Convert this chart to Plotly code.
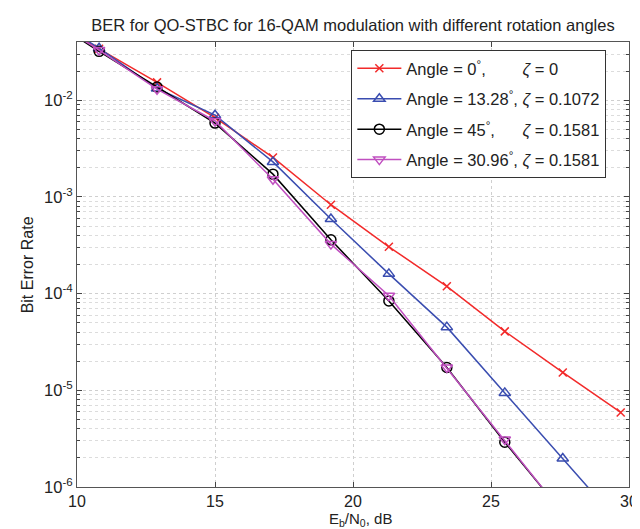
import plotly.graph_objects as go

# Eb/N0 (dB) sample points
ebn0 = [8.7, 10.8, 12.9, 15.0, 17.1, 19.2, 21.3, 23.4, 25.5, 27.6, 29.7]

ber_angle0 = [0.080, 0.0340, 0.0153, 0.0066, 2.56e-3, 8.3e-4, 3.05e-4, 1.19e-4, 4.07e-5, 1.53e-5, 5.9e-6]
ber_angle13 = [0.082, 0.0345, 0.0132, 0.0070, 2.3e-3, 5.9e-4, 1.6e-4, 4.5e-5, 9.4e-6, 1.97e-6, 4.1e-7]
ber_angle45 = [0.078, 0.0320, 0.0137, 0.0058, 1.72e-3, 3.6e-4, 8.4e-5, 1.72e-5, 2.9e-6, 5.4e-7, 9.0e-8]
ber_angle31 = [0.079, 0.0330, 0.0130, 0.0061, 1.52e-3, 3.25e-4, 9.5e-5, 1.72e-5, 3.1e-6, 5.6e-7, 9.5e-8]

names = [
    "Angle = 0<sup>°</sup>,\u00a0\u00a0\u00a0\u00a0\u00a0\u00a0\u00a0\u00a0<i>ζ</i> = 0",
    "Angle = 13.28<sup>°</sup>, <i>ζ</i> = 0.1072",
    "Angle = 45<sup>°</sup>,\u00a0\u00a0\u00a0\u00a0\u00a0\u00a0<i>ζ</i> = 0.1581",
    "Angle = 30.96<sup>°</sup>, <i>ζ</i> = 0.1581",
]
colors = ["#f22a2a", "#3a4db0", "#000000", "#c04fc0"]
symbols = ["x-thin", "triangle-up-open", "circle-open", "triangle-down-open"]
series = [ber_angle0, ber_angle13, ber_angle45, ber_angle31]

x_ticks = [10, 15, 20, 25, 30]
y_tickvals = [1e-6, 1e-5, 1e-4, 1e-3, 1e-2]
y_ticktext = ["10<sup>-6</sup>", "10<sup>-5</sup>", "10<sup>-4</sup>", "10<sup>-3</sup>", "10<sup>-2</sup>"]
minor_vals = [m * 10.0 ** e for e in range(-6, -1) for m in range(2, 10)]

fig = go.Figure()
for i, (ys, nm, c, s) in enumerate(zip(series, names, colors, symbols)):
    fig.add_trace(go.Scatter(
        x=ebn0, y=ys, name=nm, mode="lines+markers", legendgroup=f"g{i}",
        line=dict(color=c, width=1.5),
        marker=dict(symbol=s, size=10 if s != "x-thin" else 8, color=c,
                    line=dict(color=c, width=1.5)),
    ))

font = "Liberation Sans, Arial, sans-serif"
fig.update_layout(
    width=640, height=529,
    margin=dict(l=69, r=10, t=34, b=50),
    paper_bgcolor="white", plot_bgcolor="white",
    font=dict(family=font, size=16.5, color="#222"),
    title=dict(text="BER for QO-STBC for 16-QAM modulation with different rotation angles",
               xref="paper", x=0.5, xanchor="center", y=0.968, yanchor="middle",
               font=dict(size=16.5, color="#222")),
    showlegend=True,
    legend=dict(x=0.497, y=0.982, xanchor="left", yanchor="top",
                bgcolor="white", bordercolor="#333", borderwidth=1,
                font=dict(size=16.5, color="#222"), tracegroupgap=6,
                itemwidth=44),
    xaxis=dict(
        range=[10, 30], tickvals=x_ticks, ticks="inside", ticklen=5,
        showline=True, linecolor="#555", linewidth=1, mirror="ticks",
        showgrid=True, gridcolor="#cfcfcf", griddash="dot", gridwidth=1,
        zeroline=False, tickfont=dict(size=16),
    ),
    yaxis=dict(
        type="log", range=[-6, -1.398],
        tickmode="array", tickvals=y_tickvals, ticktext=y_ticktext,
        ticks="inside", ticklen=5,
        showline=True, linecolor="#555", linewidth=1, mirror="ticks",
        showgrid=True, gridcolor="#cfcfcf", griddash="dot", gridwidth=1,
        minor=dict(tickmode="array", tickvals=minor_vals, ticks="inside", ticklen=3,
                   showgrid=True, gridcolor="#dcdcdc", griddash="dot", gridwidth=1),
        zeroline=False, tickfont=dict(size=16.5),
    ),
    annotations=[
        dict(text="E<sub>b</sub>/N<sub>0</sub>, dB", xref="paper", yref="paper",
             x=0.513, y=-0.097, xanchor="center", yanchor="bottom", showarrow=False,
             borderpad=0, font=dict(size=15, color="#222")),
        dict(text="Bit Error Rate", xref="paper", yref="paper", textangle=-90,
             x=-0.089, y=0.5, xanchor="center", yanchor="middle", showarrow=False,
             font=dict(size=16, color="#222")),
    ],
)

fig.write_html("out.html")
